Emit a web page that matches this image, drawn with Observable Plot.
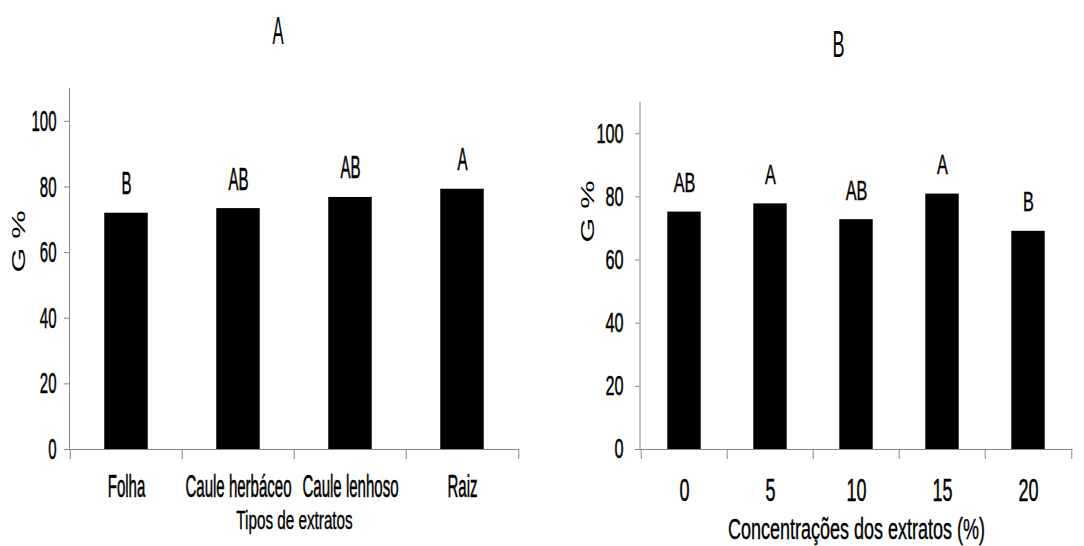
<!DOCTYPE html>
<html><head><meta charset="utf-8">
<script src="https://cdn.jsdelivr.net/npm/d3@7"></script>
<script src="https://cdn.jsdelivr.net/npm/@observablehq/plot@0.6"></script>
<style>
body{margin:0;background:#fff;}
#wrap{position:relative;width:1084px;height:546px;overflow:hidden;background:#fff;}
#wrap svg{position:absolute;top:0;}
</style></head><body><div id="wrap"></div>
<script>
// ---- data ----
const extractTypes = ["Folha", "Caule herbáceo", "Caule lenhoso", "Raiz"];
const germTypes = [72.0, 73.4, 76.8, 79.3];
const lettersTypes = ["B", "AB", "AB", "A"];

const concentrations = ["0", "5", "10", "15", "20"];
const germConc = [75.2, 77.8, 72.8, 80.9, 69.1];
const lettersConc = ["AB", "A", "AB", "A", "B"];

const yTicks = [0, 20, 40, 60, 80, 100];
const titleA = "A", titleB = "B";
const yLabel = "G %";
const xLabelA = "Tipos de extratos";
const xLabelB = "Concentrações dos extratos (%)";

const gray = "#888888";
const wrap = document.getElementById("wrap");

// horizontal condensing of text, keyed by font size: [factor or absolute length, extra stroke]
function squeeze(svg, map) {
  svg.querySelectorAll("text").forEach(t => {
    const host = t.closest("[font-size]");
    if (!host) return;
    const key = String(parseFloat(host.getAttribute("font-size")));
    if (!(key in map)) return;
    const len = t.getComputedTextLength();
    if (!len) return;
    const [v, sw] = map[key];
    const target = v > 3 ? v : len * v;
    t.setAttribute("textLength", target);
    t.setAttribute("lengthAdjust", "spacingAndGlyphs");
    if (sw) { t.style.stroke = "black"; t.style.strokeWidth = sw; }
  });
}

function panel(o) {
  const data = o.cats.map((c, i) => ({cat: c, val: o.vals[i], letter: o.letters[i]}));
  const innerW = o.width - o.ml - o.mr;
  const band = innerW / o.cats.length;
  const inset = (band - o.barW) / 2;
  const svg = Plot.plot({
    width: o.width, height: 546,
    marginLeft: o.ml, marginRight: o.mr, marginTop: o.mt, marginBottom: 97,
    style: {fontFamily: "'Liberation Sans', Arial, sans-serif", background: "transparent", color: "black"},
    x: {type: "band", domain: o.cats, padding: 0, label: null},
    y: {domain: [0, 110], label: null},
    marks: [
      Plot.barY(data, {x: "cat", y: "val", fill: "black", insetLeft: inset, insetRight: inset}),
      Plot.frame({anchor: "left", stroke: gray}),
      Plot.ruleY([0], {stroke: gray}),
      Plot.axisY({ticks: yTicks, tickSize: o.yTickSize, tickPadding: o.yTickPad, fontSize: o.yFont, stroke: gray, fill: "black", label: null}),
      Plot.axisX({tickSize: 0, tickPadding: o.xTickPad, fontSize: o.xFont, fill: "black", label: null}),
      Plot.axisX({tickSize: 10, tickFormat: () => "", dx: -band / 2, stroke: gray, label: null}),
      Plot.axisX([o.cats[o.cats.length - 1]], {tickSize: 10, tickFormat: () => "", dx: band / 2, stroke: gray, label: null}),
      Plot.text(data, {x: "cat", y: "val", text: "letter", lineAnchor: "bottom", dy: -o.letterGap, fontSize: o.letterFont, fill: "black"}),
      Plot.text([o.title], {text: d => d, frameAnchor: "top-left", dx: o.titleX - o.left - o.ml, dy: o.titleY - o.mt, lineAnchor: "middle", fontSize: o.titleFont, fill: "black"}),
      Plot.text([yLabel], {text: d => d, frameAnchor: "top-left", dx: o.ylabX - o.left - o.ml, dy: o.ylabY - o.mt, rotate: -90, lineAnchor: "middle", fontSize: o.ylabFont, fill: "black"}),
      Plot.text([o.xlabel], {text: d => d, frameAnchor: "bottom", dy: o.xlabDy, lineAnchor: "bottom", fontSize: o.xlabFont, fill: "black"})
    ]
  });
  svg.style.left = o.left + "px";
  wrap.appendChild(svg);
  squeeze(svg, o.sq);
}

panel({
  left: 0, width: 540, ml: 69, mr: 21, mt: 88, barW: 44,
  cats: extractTypes, vals: germTypes, letters: lettersTypes,
  yTickSize: 5, yTickPad: 8, yFont: 30, xTickPad: 25, xFont: 32,
  letterGap: 19, letterFont: 32,
  title: titleA, titleX: 272, titleY: 31, titleFont: 39,
  ylabX: 18, ylabY: 272, ylabFont: 19,
  xlabel: xLabelA, xlabDy: 79, xlabFont: 25,
  sq: {"30": [0.5, 0.5], "32": [0.47, 0.6], "39": [0.43, 0], "25": [0.61, 0.4], "19": [62, 0]}
});

panel({
  left: 540, width: 544, ml: 99.5, mr: 11.5, mt: 101.7, barW: 34,
  cats: concentrations, vals: germConc, letters: lettersConc,
  yTickSize: 4.5, yTickPad: 12, yFont: 28, xTickPad: 29, xFont: 31,
  letterGap: 20, letterFont: 28,
  title: titleB, titleX: 832, titleY: 44.5, titleFont: 36,
  ylabX: 587, ylabY: 242, ylabFont: 19,
  xlabel: xLabelB, xlabDy: 89, xlabFont: 29,
  sq: {"28": [0.58, 0.5], "31": [0.58, 0.5], "36": [0.5, 0], "29": [0.62, 0.4], "19": [62, 0]}
});
</script></body></html>
